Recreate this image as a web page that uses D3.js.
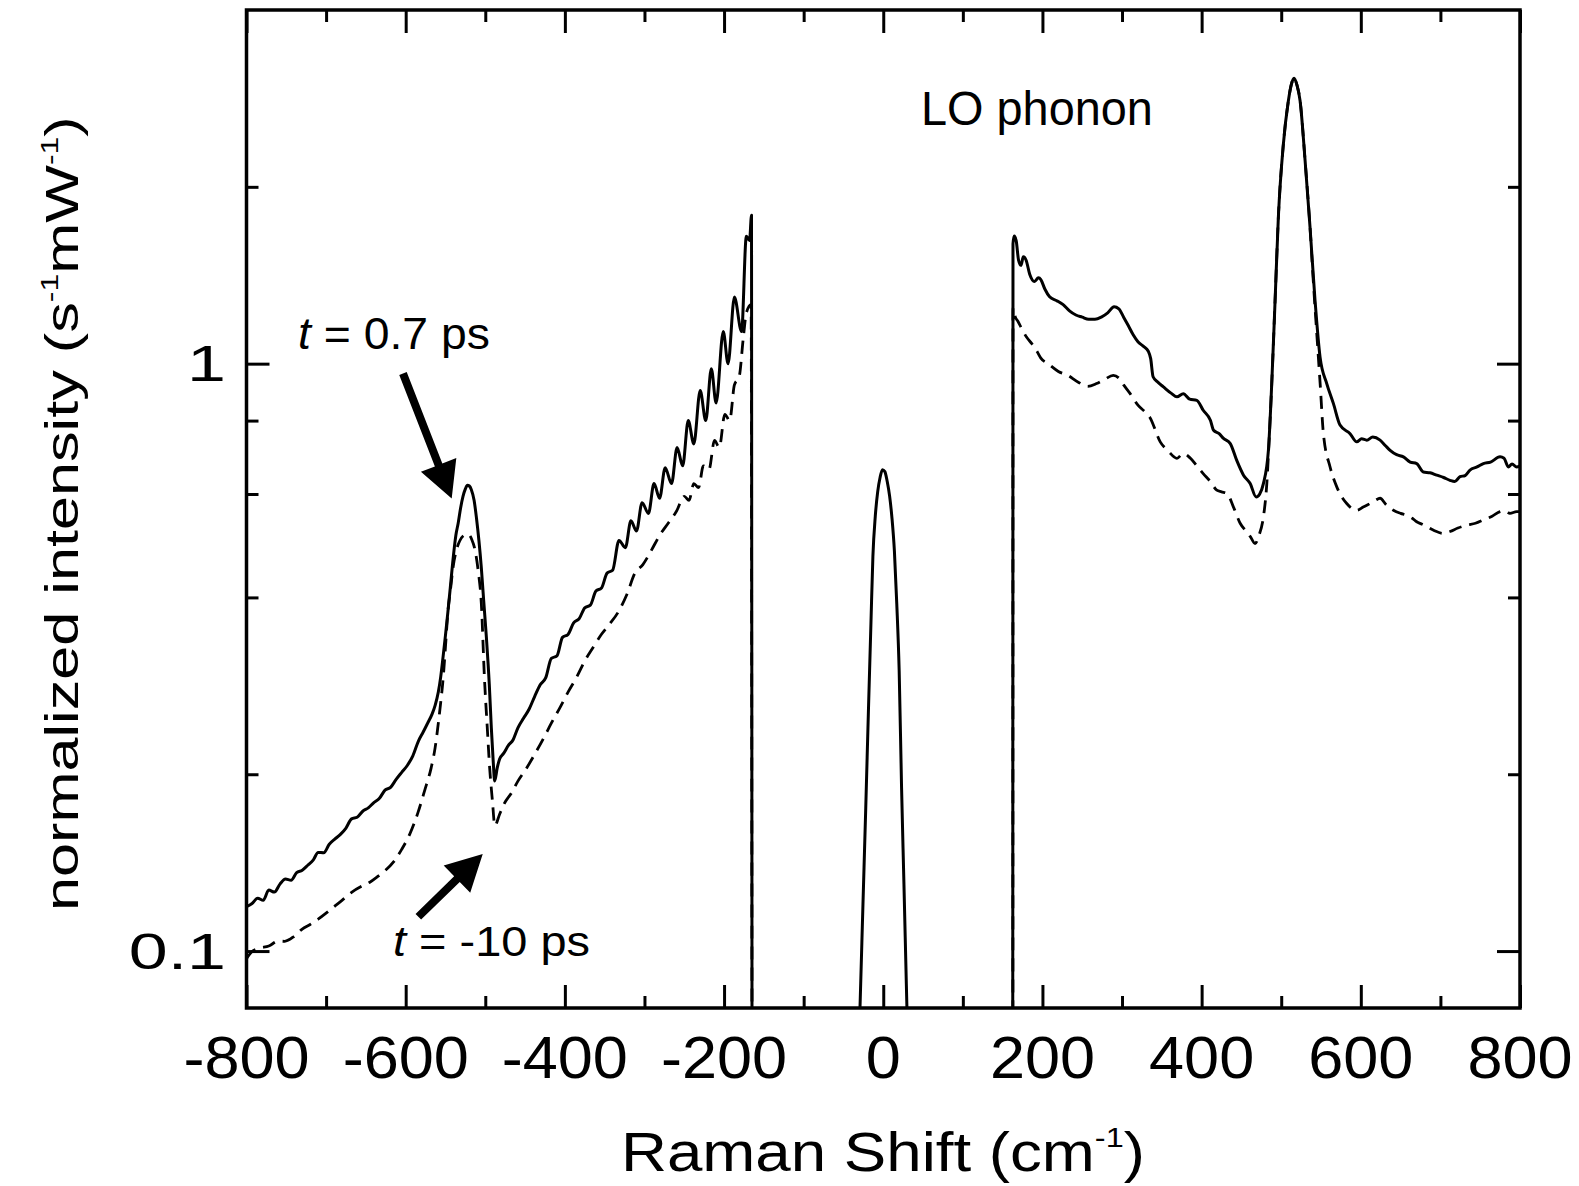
<!DOCTYPE html>
<html><head><meta charset="utf-8">
<script src="https://cdn.jsdelivr.net/npm/d3@7"></script>
<style>
html,body{margin:0;padding:0;background:#fff;}
svg{display:block;}
text{font-family:"Liberation Sans", Arial, Helvetica, sans-serif; fill:#000;}
</style></head><body>
<svg id="chart" width="1579" height="1186"></svg>
<script>
// ---------- data ----------
const xTickValues = [-800, -600, -400, -200, 0, 200, 400, 600, 800];
const xMinorTicks = [-700, -500, -300, -100, 100, 300, 500, 700];
const yTickValues = [0.1, 1];
const yMinorTicks = [0.2, 0.4, 0.6, 0.8, 2];

// t = 0.7 ps (solid), anti-Stokes side  [Raman shift, intensity]
const antiStokesSolid = [[-800,0.119],[-793,0.1205],[-786,0.123],[-779,0.122],[-772,0.127],[-765,0.126],[-758,0.130],[-751,0.1326],[-744,0.132],[-737,0.136],
[-730,0.1373],[-723,0.140],[-716,0.143],[-710,0.1472],[-703,0.147],[-696,0.152],[-689,0.1551],[-682,0.158],[-675,0.162],[-668,0.1679],
[-661,0.169],[-654,0.173],[-647,0.1753],[-640,0.179],[-633,0.182],[-626,0.1879],[-619,0.190],[-612,0.196],[-605,0.2015],[-598,0.207],
[-591,0.215],[-584,0.2278],[-578,0.236],[-572,0.245],[-567,0.2529],[-563,0.262],[-559,0.276],[-556,0.293],[-553,0.3172],[-550,0.345],
[-547,0.3777],[-544,0.415],[-541,0.4575],[-537,0.51],[-534,0.5355],[-531,0.568],[-528,0.5944],[-525,0.612],[-522.5,0.621],[-520,0.619],
[-517.5,0.6102],[-514,0.585],[-511,0.5449],[-508,0.50],[-505,0.4498],[-502,0.395],[-498.5,0.3402],[-495,0.285],[-492.4,0.2399],[-490,0.21],
[-488.2,0.1947],[-485,0.205],[-482,0.2124],[-477,0.217],[-471,0.2239],[-465,0.229],[-459,0.2399],[-452,0.249],[-445,0.258],[-438,0.2712],
[-431,0.284],[-424,0.292],[-417,0.315],[-410,0.318],[-403,0.342],[-396,0.346],[-389,0.362],[-382,0.368],[-375,0.384],[-368,0.388],
[-361,0.410],[-354,0.415],[-347,0.44],[-340,0.445],[-332,0.50],[-324,0.486],[-317,0.54],[-310,0.519],[-303,0.58],[-295,0.556],
[-288,0.625],[-281,0.59],[-274,0.665],[-266,0.625],[-259,0.72],[-252,0.67],[-245,0.80],[-238,0.73],[-230,0.90],[-223,0.80],
[-216,0.98],[-210,0.857],[-201,1.134],[-195,1.00],[-187,1.298],[-178,1.134],[-172,1.648],[-168,1.62],[-165.5,1.79],[-164.5,0.01]];

// t = -10 ps (dashed), anti-Stokes side
const antiStokesDashed = [[-800,0.097],[-794,0.0995],[-785,0.101],[-772,0.102],[-760,0.104],[-752,0.1039],[-740,0.106],[-730,0.109],[-720,0.111],[-710,0.1133],
[-700,0.116],[-690,0.119],[-680,0.122],[-668,0.1259],[-655,0.129],[-645,0.131],[-635,0.134],[-626,0.137],[-615,0.142],[-605,0.149],
[-595,0.158],[-584.5,0.1722],[-576,0.188],[-568,0.2051],[-563,0.222],[-559,0.2443],[-556,0.265],[-553,0.2906],[-550,0.33],[-547,0.3777],
[-543.5,0.415],[-540.5,0.4498],[-536,0.483],[-532,0.4995],[-527,0.510],[-522,0.5126],[-517,0.502],[-513,0.4824],[-509,0.445],[-505,0.3913],
[-501,0.2906],[-497.5,0.24],[-494.5,0.2051],[-491,0.18],[-488,0.1635],[-482,0.171],[-476,0.1784],[-467,0.186],[-459,0.1947],[-448,0.205],
[-438,0.2162],[-427,0.230],[-417,0.2443],[-406,0.260],[-396,0.276],[-385,0.293],[-375,0.3118],[-365,0.328],[-354,0.3462],[-344,0.36],
[-333,0.3777],[-322,0.405],[-312,0.44],[-302,0.455],[-291,0.482],[-281,0.51],[-270,0.5355],[-260,0.56],[-250,0.5944],[-244,0.585],
[-238,0.625],[-232,0.615],[-226,0.67],[-219,0.66],[-212,0.74],[-206,0.72],[-199,0.82],[-193,0.80],[-187,0.92],[-181,0.95],
[-176,1.10],[-172,1.22],[-166,1.26],[-164.5,0.01]];

// laser line (Rayleigh) near zero shift
const laserLine = [[-32,0.06],[-29,0.082],[-25.5,0.12],[-22,0.175],[-18.5,0.26],[-15.5,0.36],[-13,0.47],[-10,0.55],[-7,0.605],[-4,0.64],
[-1,0.66],[2,0.655],[5,0.63],[8,0.595],[11,0.545],[14,0.48],[17,0.39],[20,0.30],[23,0.19],[26,0.13],[29,0.088],[32,0.06]];

// t = 0.7 ps (solid), Stokes side
const stokesSolid = [[162.5,0.01],[163,1.60],[164.5,1.65],[167,1.62],[170,1.50],[173,1.47],[176,1.52],[179.5,1.50],[184,1.42],[190,1.38],
[195,1.40],[198,1.39],[203,1.34],[209,1.30],[218,1.28],[226,1.26],[234,1.23],[242,1.21],[250,1.20],[258,1.19],
[266,1.19],[274,1.20],[282,1.22],[290,1.25],[296,1.24],[302,1.20],[308,1.16],[314,1.12],[320,1.09],[327,1.07],
[333,1.05],[336,1.02],[339,0.95],[345,0.93],[352,0.913],[362,0.89],[369,0.878],[377,0.889],[385,0.87],[394,0.866],
[402,0.833],[411,0.801],[415,0.770],[422,0.76],[427.5,0.746],[436,0.731],[444,0.685],[452.6,0.646],[461,0.625],[468.5,0.593],
[473,0.60],[477.6,0.625],[483.9,0.712],[488.1,0.925],[492.3,1.281],[496.4,1.775],[502.7,2.365],[509,2.803],[512.5,2.98],[516.1,3.06],
[519.8,2.98],[523.7,2.803],[530,2.216],[536.2,1.707],[542.5,1.281],[548.8,1.026],[557.2,0.925],[565.6,0.855],[573.9,0.786],[586.5,0.760],
[594.9,0.736],[601,0.745],[607.5,0.741],[615,0.75],[624.2,0.741],[631,0.725],[636.8,0.712],[645,0.70],[653.5,0.694],[662,0.68],
[670.2,0.676],[678.6,0.654],[687,0.652],[695.4,0.646],[704,0.64],[712.1,0.633],[718,0.63],[724.7,0.642],[731,0.645],[737.2,0.659],
[746,0.667],[754,0.676],[763,0.68],[774.9,0.694],[780,0.69],[785.3,0.667],[790,0.675],[795.8,0.667],[800,0.67]];

// t = -10 ps (dashed), Stokes side
const stokesDashed = [[162.8,0.01],[163,1.245],[166,1.20],[169,1.182],[175,1.14],[180,1.11],[187,1.08],[193,1.05],[198,1.022],[207,1.00],
[220,0.97],[232,0.955],[245,0.93],[257,0.915],[268,0.925],[278,0.94],[289,0.955],[296,0.945],[302,0.92],[310,0.89],
[320,0.85],[328,0.83],[335,0.81],[348,0.736],[358,0.71],[369,0.69],[377,0.703],[386,0.69],[394,0.67],[402,0.65],
[411,0.63],[419,0.609],[425,0.605],[432,0.601],[440,0.57],[448.4,0.535],[455,0.52],[461,0.508],[467.2,0.494],[472,0.51],
[477.7,0.549],[481.9,0.625],[485,0.75],[488.1,0.925],[492.3,1.281],[496.4,1.775],[502.7,2.365],[509,2.803],[512.5,2.98],[516.1,3.06],
[519.8,2.98],[523.7,2.803],[530,2.216],[536.2,1.707],[540.5,1.368],[544.7,1.124],[548.9,0.925],[553,0.760],[561.4,0.667],[569.8,0.617],
[582.3,0.578],[594.9,0.563],[603,0.57],[611.6,0.578],[618,0.585],[624.2,0.590],[632,0.575],[640.9,0.563],[650,0.556],[657.7,0.552],
[665,0.545],[670.2,0.538],[677,0.533],[682.8,0.528],[692,0.52],[703.7,0.514],[712.1,0.518],[722,0.525],[733,0.531],[744,0.535],
[754,0.542],[765,0.55],[774.9,0.560],[781,0.562],[787.4,0.556],[795.8,0.560],[800,0.56]];

// annotation arrows in data coordinates: [tail, tip]
const arrowLate = [[-603.4, 0.962], [-542.2, 0.5895]];
const arrowEarly = [[-584.1, 0.1144], [-503.2, 0.1463]];

// ---------- layout ----------
const svg = d3.select("#chart");
const L = 246.5, R = 1520, T = 10, B = 1008;
const x = d3.scaleLinear().domain([-800, 800]).range([L, R]);
const y = d3.scaleLog().domain([0.08, 4]).range([B, T]);

svg.append("rect").attr("width", 1579).attr("height", 1186).attr("fill", "#fff");

svg.append("clipPath").attr("id", "plotclip")
  .append("rect").attr("x", L).attr("y", T).attr("width", R - L).attr("height", B - T);

// ticks via d3 axes
function styleAxis(g) {
  g.select(".domain").remove();
  g.selectAll(".tick line").attr("stroke", "#000").attr("stroke-width", 3);
  g.selectAll(".tick text").remove();
}
svg.append("g").attr("transform", `translate(0,${B})`)
  .call(d3.axisBottom(x).tickValues(xTickValues).tickSize(-23).tickFormat("")).call(styleAxis);
svg.append("g").attr("transform", `translate(0,${B})`)
  .call(d3.axisBottom(x).tickValues(xMinorTicks).tickSize(-12).tickFormat("")).call(styleAxis);
svg.append("g").attr("transform", `translate(0,${T})`)
  .call(d3.axisTop(x).tickValues(xTickValues).tickSize(-23).tickFormat("")).call(styleAxis);
svg.append("g").attr("transform", `translate(0,${T})`)
  .call(d3.axisTop(x).tickValues(xMinorTicks).tickSize(-12).tickFormat("")).call(styleAxis);
svg.append("g").attr("transform", `translate(${L},0)`)
  .call(d3.axisLeft(y).tickValues(yTickValues).tickSize(-23).tickFormat("")).call(styleAxis);
svg.append("g").attr("transform", `translate(${L},0)`)
  .call(d3.axisLeft(y).tickValues(yMinorTicks).tickSize(-12).tickFormat("")).call(styleAxis);
svg.append("g").attr("transform", `translate(${R},0)`)
  .call(d3.axisRight(y).tickValues(yTickValues).tickSize(-23).tickFormat("")).call(styleAxis);
svg.append("g").attr("transform", `translate(${R},0)`)
  .call(d3.axisRight(y).tickValues(yMinorTicks).tickSize(-12).tickFormat("")).call(styleAxis);

// data lines
const line = d3.line().x(d => x(d[0])).y(d => y(d[1])).curve(d3.curveMonotoneX);
const plot = svg.append("g").attr("clip-path", "url(#plotclip)");
[antiStokesDashed, stokesDashed].forEach(s => {
  plot.append("path").datum(s).attr("d", line)
    .attr("fill", "none").attr("stroke", "#000").attr("stroke-width", 2.8)
    .attr("stroke-dasharray", "13,8").attr("stroke-linejoin", "round");
});
[antiStokesSolid, laserLine, stokesSolid].forEach(s => {
  plot.append("path").datum(s).attr("d", line)
    .attr("fill", "none").attr("stroke", "#000").attr("stroke-width", 3)
    .attr("stroke-linejoin", "round");
});

// frame
svg.append("rect").attr("x", L).attr("y", T).attr("width", R - L).attr("height", B - T)
  .attr("fill", "none").attr("stroke", "#000").attr("stroke-width", 3.5);

// tick labels
svg.append("g").selectAll("text").data(xTickValues).join("text")
  .attr("text-anchor", "middle").attr("font-size", 60)
  .attr("transform", d => `translate(${x(d)},1078) scale(1.05,1)`)
  .text(d => String(d));
svg.append("g").selectAll("text").data(yTickValues).join("text")
  .attr("text-anchor", "end").attr("font-size", 50)
  .attr("transform", d => `translate(226,${y(d) + 17.5}) scale(1.4,1)`)
  .text(d => String(d));

// helper: stretch text horizontally to fit a target width
function fitText(t, x0, x1, yb) {
  t.attr("x", 0).attr("y", 0).attr("text-anchor", "start");
  const bb = t.node().getBBox();
  const s = (x1 - x0) / bb.width;
  t.attr("transform", `translate(${x0 - bb.x * s},${yb}) scale(${s},1)`);
}

// x axis title
const xt = svg.append("text").attr("font-size", 55);
xt.append("tspan").text("Raman Shift (cm");
xt.append("tspan").attr("font-size", 28).attr("dy", -24).text("-1");
xt.append("tspan").attr("dy", 24).text(")");
fitText(xt, 621, 1145, 1171);

// y axis title (rotated)
const yt = svg.append("text").attr("font-size", 46).attr("x", 0).attr("y", 0);
yt.append("tspan").text("normalized intensity (s");
yt.append("tspan").attr("font-size", 24).attr("dy", -20).text("-1");
yt.append("tspan").attr("dy", 20).text("mW");
yt.append("tspan").attr("font-size", 24).attr("dy", -20).text("-1");
yt.append("tspan").attr("dy", 20).text(")");
{
  const bb = yt.node().getBBox();
  const s = 795 / bb.width;
  yt.attr("transform", `translate(78,911) rotate(-90) scale(${s},1)`);
}

// annotations
const lo = svg.append("text").attr("font-size", 49).text("LO phonon");
fitText(lo, 921, 1153, 125);

const ta = svg.append("text").attr("font-size", 44);
ta.append("tspan").attr("font-style", "italic").text("t");
ta.append("tspan").text(" = 0.7 ps");
fitText(ta, 298, 490, 349);

const tb = svg.append("text").attr("font-size", 43);
tb.append("tspan").attr("font-style", "italic").text("t");
tb.append("tspan").text(" = -10 ps");
fitText(tb, 393, 590, 956);

function drawArrow(a) {
  const p0 = [x(a[0][0]), y(a[0][1])];
  const p1 = [x(a[1][0]), y(a[1][1])];
  const dx = p1[0] - p0[0], dy = p1[1] - p0[1];
  const len = Math.hypot(dx, dy);
  const ux = dx / len, uy = dy / len, nx = -uy, ny = ux;
  const hl = 36, hw = 19, sw = 4;
  const bx = p1[0] - ux * hl, by = p1[1] - uy * hl;
  const pts = [
    [p0[0] + nx * sw, p0[1] + ny * sw],
    [bx + nx * sw, by + ny * sw],
    [bx + nx * hw, by + ny * hw],
    p1,
    [bx - nx * hw, by - ny * hw],
    [bx - nx * sw, by - ny * sw],
    [p0[0] - nx * sw, p0[1] - ny * sw]
  ];
  svg.append("path").attr("d", "M" + pts.map(p => p.join(",")).join("L") + "Z").attr("fill", "#000");
}
drawArrow(arrowLate);
drawArrow(arrowEarly);
</script>
</body></html>
